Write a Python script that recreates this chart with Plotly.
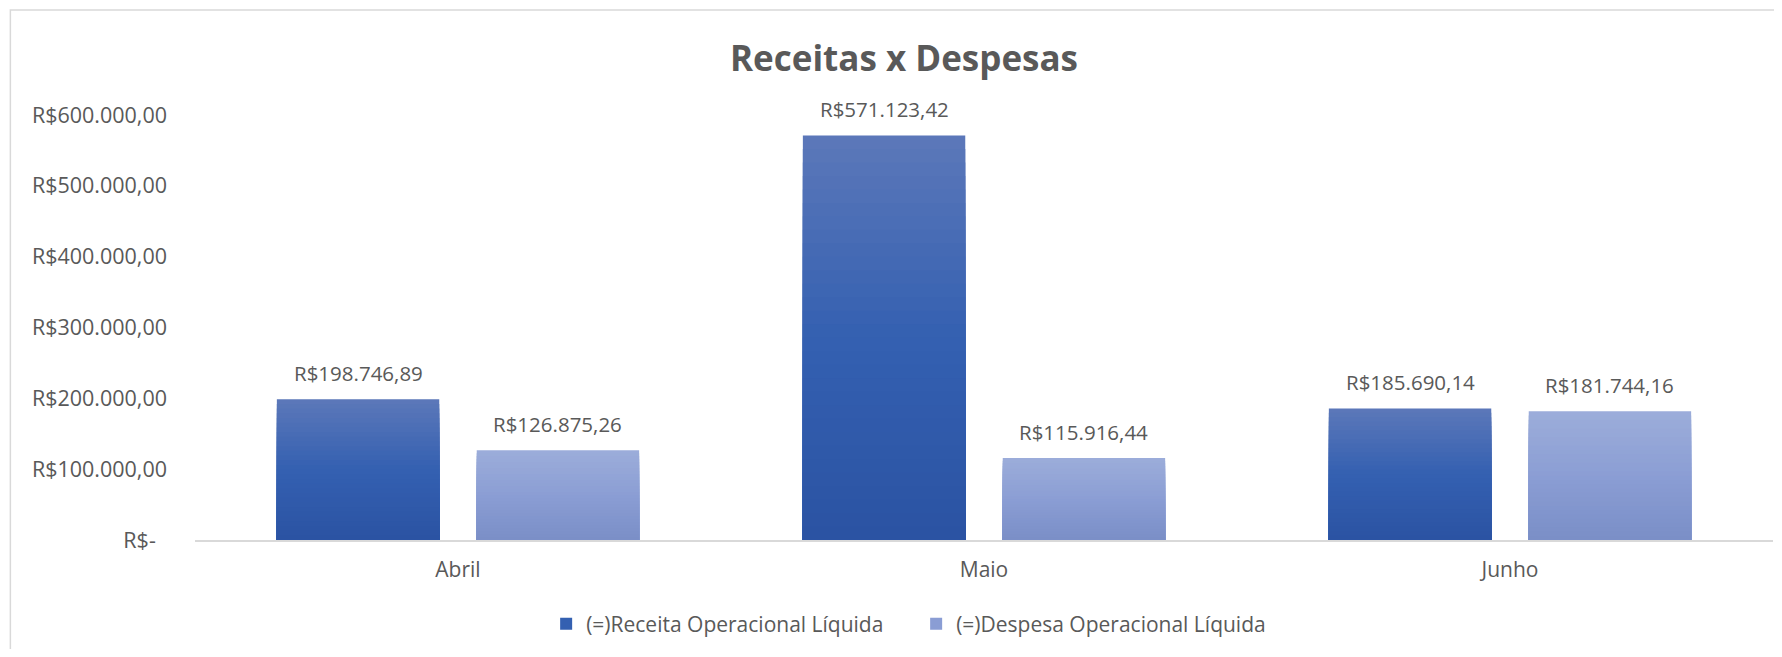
import plotly.graph_objects as go

# data
months = ["Abril", "Maio", "Junho"]
receita = [198746.89, 571123.42, 185690.14]
despesa = [126875.26, 115916.44, 181744.16]
series_names = ["(=)Receita Operacional Líquida", "(=)Despesa Operacional Líquida"]
tick_vals = [0, 100000, 200000, 300000, 400000, 500000, 600000]
tick_text = ["R$-\u00a0\u00a0", "R$100.000,00", "R$200.000,00", "R$300.000,00",
             "R$400.000,00", "R$500.000,00", "R$600.000,00"]


def fmt_brl(v):
    s = f"{v:,.2f}".replace(",", "X").replace(".", ",").replace("X", ".")
    return "R$" + s


# gradient stops (bottom -> top) for each series
gradients = [
    [(0.0, (43, 83, 163)), (0.5, (52, 96, 177)), (1.0, (92, 120, 185))],
    [(0.0, (122, 142, 199)), (0.5, (139, 158, 212)), (1.0, (156, 173, 218))],
]


def grad_color(stops, p):
    for (p0, c0), (p1, c1) in zip(stops, stops[1:]):
        if p0 <= p <= p1:
            t = (p - p0) / (p1 - p0)
            c = [round(a + (b - a) * t) for a, b in zip(c0, c1)]
            return f"rgb({c[0]},{c[1]},{c[2]})"
    c = stops[-1][1]
    return f"rgb({c[0]},{c[1]},{c[2]})"


TXT = "#595959"
FONT = "Open Sans"
N = 30  # gradient layers

# the page body has an 8px margin, so the figure is a bit smaller than the window
W, H = 1766, 641
ML, MR, MT, MB = 187, 1, 107, 109
BARGAP, GROUPGAP = 0.24, 0.1875

fig = go.Figure()
for i, (name, values) in enumerate(zip(series_names, [receita, despesa])):
    for k in range(N, 0, -1):
        frac = k / N
        fig.add_trace(go.Bar(
            x=months,
            y=[v * frac for v in values],
            offsetgroup=str(i),
            legendgroup=str(i),
            name=name,
            showlegend=(k == N // 2),
            marker=dict(color=grad_color(gradients[i], (k - 0.5) / N), line=dict(width=0)),
            hoverinfo="skip" if k != N else None,
        ))

# data labels above each bar
slot = (W - ML - MR) / len(months) * (1 - BARGAP) / 2
annotations = []
for i, values in enumerate([receita, despesa]):
    for m, v in zip(months, values):
        annotations.append(dict(
            x=m, y=v, xref="x", yref="y",
            text=fmt_brl(v), showarrow=False,
            xshift=(i - 0.5) * slot, yshift=26, yanchor="middle",
            font=dict(family=FONT, size=20.5, color=TXT),
        ))

fig.update_layout(
    width=W,
    height=H,
    barmode="group",
    bargap=BARGAP,
    bargroupgap=GROUPGAP,
    plot_bgcolor="white",
    paper_bgcolor="white",
    font=dict(family=FONT, size=20, color=TXT),
    margin=dict(l=ML, r=MR, t=MT, b=MB),
    title=dict(
        text="<b>Receitas x Despesas</b>",
        x=896 / W, xanchor="center",
        y=1 - 51 / H, yanchor="middle",
        font=dict(family=FONT, size=35, color=TXT),
    ),
    legend=dict(
        orientation="h",
        x=0.457, xanchor="center",
        y=-0.198, yanchor="middle",
        font=dict(family=FONT, size=21, color=TXT),
        itemwidth=30,
        entrywidth=325, entrywidthmode="pixels",
    ),
    showlegend=True,
    annotations=annotations,
    shapes=[dict(
        type="rect", xref="paper", yref="paper",
        x0=-0.117, x1=1.2, y0=-0.5, y1=1.247,
        line=dict(color="#D9D9D9", width=1.5),
        fillcolor="rgba(0,0,0,0)", layer="below",
    )],
)
fig.update_xaxes(
    showline=True, linecolor="#D9D9D9", linewidth=1.5,
    showgrid=False, zeroline=False, ticks="",
    tickfont=dict(family=FONT, size=21, color=TXT),
    ticklabelstandoff=10,
)
fig.update_yaxes(
    range=[0, 600000],
    tickvals=tick_vals, ticktext=tick_text,
    showgrid=False, zeroline=False, showline=False, ticks="",
    tickfont=dict(family=FONT, size=21.5, color=TXT),
    ticklabelstandoff=27,
)

fig.write_html("out.html")
